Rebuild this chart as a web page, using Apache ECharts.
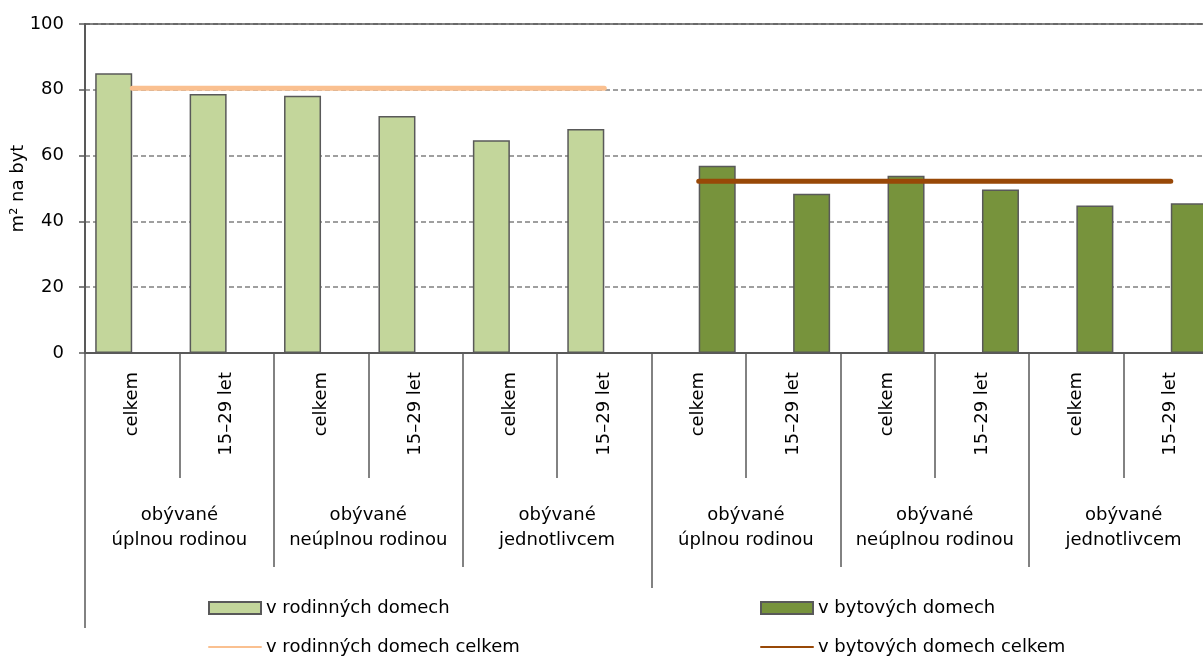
<!DOCTYPE html>
<html>
<head>
<meta charset="utf-8">
<script src="https://cdn.jsdelivr.net/npm/echarts@6/dist/echarts.min.js"></script>
<style>
  html, body { margin: 0; padding: 0; background: #fff; }
  #chart { width: 1203px; height: 657px; }
</style>
</head>
<body>
<div id="chart"></div>
<script>
var categories = ['celkem', '15–29 let', 'celkem', '15–29 let', 'celkem', '15–29 let',
                  'celkem', '15–29 let', 'celkem', '15–29 let', 'celkem', '15–29 let'];
var groups = ['obývané\núplnou rodinou', 'obývané\nneúplnou rodinou', 'obývané\njednotlivcem',
              'obývané\núplnou rodinou', 'obývané\nneúplnou rodinou', 'obývané\njednotlivcem'];
var houseTypes = ['v rodinných domech', 'v bytových domech'];
var rodinne = [85, 78.7, 78.2, 72, 64.7, 68.1, '-', '-', '-', '-', '-', '-'];
var bytove = ['-', '-', '-', '-', '-', '-', 56.9, 48.4, 53.9, 49.7, 44.8, 45.5];
var rodinneCelkem = [80.5, 80.5, 80.5, 80.5, 80.5, 80.5, '-', '-', '-', '-', '-', '-'];
var bytoveCelkem = ['-', '-', '-', '-', '-', '-', 52.2, 52.2, 52.2, 52.2, 52.2, 52.2];

var FONT = 'DejaVu Sans';
var AXIS = '#595959';
var C_ROD = '#c3d69b', C_BYT = '#77933c', C_ROD_L = '#fac090', C_BYT_L = '#984807';

var myChart = echarts.init(document.getElementById('chart'));

function legendBlock(left, barName, barColor, lineName, lineColor) {
    return {
        left: left, top: 599, orient: 'vertical', padding: 0,
        itemWidth: 52, itemHeight: 12, itemGap: 21,
        textStyle: { fontFamily: FONT, fontSize: 18, color: '#000', lineHeight: 18 },
        data: [
            { name: barName, icon: 'rect', itemStyle: { color: barColor, borderColor: AXIS, borderWidth: 2 } },
            { name: lineName, itemStyle: { opacity: 0 }, lineStyle: { color: lineColor, width: 2 } }
        ]
    };
}

var option = {
    animation: false,
    textStyle: { fontFamily: FONT, color: '#000' },
    // plot runs past the right edge like in the original picture
    grid: { left: 85, top: 24, right: -15, bottom: 304, containLabel: false, outerBoundsMode: 'none' },
    legend: [
        legendBlock(208, 'v rodinných domech', C_ROD, 'v rodinných domech celkem', C_ROD_L),
        legendBlock(760, 'v bytových domech', C_BYT, 'v bytových domech celkem', C_BYT_L)
    ],
    xAxis: [
        {
            type: 'category', position: 'bottom', data: categories,
            axisLine: { show: true, lineStyle: { color: AXIS, width: 2 } },
            axisTick: { show: true, interval: 0, length: 125, lineStyle: { color: AXIS, width: 1.5 } },
            axisLabel: { interval: 0, rotate: 90, margin: 19, fontSize: 18, color: '#000', fontFamily: FONT }
        },
        {
            type: 'category', position: 'bottom', data: groups,
            axisLine: { show: false },
            axisTick: { show: true, interval: 0, length: 214, lineStyle: { color: AXIS, width: 1.5 } },
            axisLabel: { interval: 0, margin: 150, fontSize: 18, lineHeight: 25, color: '#000', fontFamily: FONT, align: 'center' }
        },
        {
            type: 'category', position: 'bottom', data: houseTypes,
            axisLine: { show: false },
            axisTick: { show: true, interval: 0, length: 235, lineStyle: { color: AXIS, width: 1.5 } },
            axisLabel: { show: false }
        },
        {
            type: 'category', position: 'bottom', data: [''],
            axisLine: { show: false },
            axisTick: { show: true, interval: 0, length: 275, lineStyle: { color: AXIS, width: 1.5 } },
            axisLabel: { show: false }
        },
        {
            type: 'category', position: 'top', data: categories,
            axisLine: { show: true, lineStyle: { color: AXIS, width: 1.5 } },
            axisTick: { show: false },
            axisLabel: { show: false }
        }
    ],
    yAxis: {
        type: 'value', min: 0, max: 100, interval: 20,
        name: 'm² na byt', nameLocation: 'middle', nameGap: 58, nameRotate: 90,
        nameMoveOverlap: false,
        nameTextStyle: { fontSize: 18, color: '#000', fontFamily: FONT },
        axisLine: { show: true, lineStyle: { color: AXIS, width: 2 } },
        axisTick: { show: true, inside: false, length: 6, lineStyle: { color: AXIS, width: 1.5 } },
        axisLabel: { margin: 21, fontSize: 18, color: '#000', fontFamily: FONT },
        splitLine: { show: true, lineStyle: { color: '#808080', width: 1.5, type: [5, 3] } }
    },
    series: [
        {
            name: 'v rodinných domech', type: 'bar', data: rodinne,
            barWidth: 37, barGap: '0%',
            itemStyle: { color: C_ROD, borderColor: AXIS, borderWidth: 1.5 }
        },
        {
            name: 'v bytových domech', type: 'bar', data: bytove,
            barWidth: 37, barGap: '0%',
            itemStyle: { color: C_BYT, borderColor: AXIS, borderWidth: 1.5 }
        },
        {
            name: 'v rodinných domech celkem', type: 'line', data: rodinneCelkem,
            symbol: 'none', z: 5,
            lineStyle: { color: C_ROD_L, width: 5, cap: 'round' },
            itemStyle: { color: C_ROD_L }
        },
        {
            name: 'v bytových domech celkem', type: 'line', data: bytoveCelkem,
            symbol: 'none', z: 5,
            lineStyle: { color: C_BYT_L, width: 5, cap: 'round' },
            itemStyle: { color: C_BYT_L }
        }
    ]
};

if (option && typeof option === "object") {
    myChart.setOption(option, true);
}
</script>
</body>
</html>
